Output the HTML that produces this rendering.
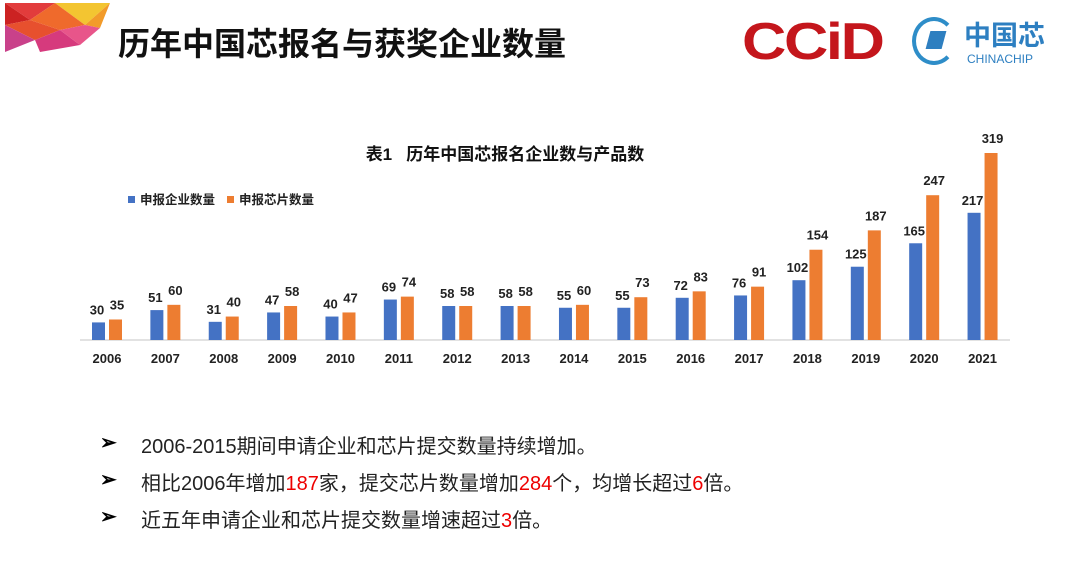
<!DOCTYPE html>
<html><head><meta charset="utf-8">
<style>
body{margin:0;width:1080px;height:573px;background:#fff;overflow:hidden;position:relative;font-family:"Liberation Sans","Noto Sans CJK SC",sans-serif;}
.title{position:absolute;left:118px;top:19px;font-size:32px;font-weight:bold;color:#111;letter-spacing:0px;white-space:nowrap;}
.bul{position:absolute;left:100px;font-size:20px;color:#222;}
.bul span.r{color:#e00;}
.bul .arr{position:absolute;left:0;font-weight:bold;color:#000;}
.bul .t{position:absolute;left:41px;white-space:nowrap;}
</style></head><body>
<svg width="115" height="55" style="position:absolute;left:0;top:0">
<polygon points="5,3 55,3 30,20" fill="#e23c3c"/>
<polygon points="55,3 110,3 85,25" fill="#f3c531"/>
<polygon points="5,3 30,20 5,25" fill="#c22"/>
<polygon points="30,20 55,3 85,25 60,30" fill="#ef6a2c"/>
<polygon points="5,25 30,20 60,30 35,40" fill="#e7502e"/>
<polygon points="85,25 110,3 100,28" fill="#f29b2a"/>
<polygon points="5,25 35,40 5,52" fill="#c9418a"/>
<polygon points="35,40 60,30 80,45 40,52" fill="#d63a7d"/>
<polygon points="60,30 85,25 100,28 80,45" fill="#e8558a"/>
</svg>
<div class="title">历年中国芯报名与获奖企业数量</div>
<div style="position:absolute;left:742px;top:12px;font:bold 52px 'Liberation Sans',sans-serif;color:#c4161c;letter-spacing:-2px;transform:scaleX(1.18);transform-origin:left;white-space:nowrap">CCiD</div>
<div style="position:absolute;left:912px;top:17px;width:60px;height:52px;">
<div style="position:absolute;left:0;top:0;width:44px;height:48px;border:4px solid #2e8dc8;border-radius:50%;border-right-color:transparent;box-sizing:border-box"></div>
<div style="position:absolute;left:16px;top:14px;width:16px;height:18px;background:#2e7fc0;transform:skewX(-15deg)"></div>
<div style="position:absolute;left:52px;top:2px;font:bold 27px 'Noto Sans CJK SC',sans-serif;color:#2d7fc1;white-space:nowrap;line-height:30px">中国芯</div>
<div style="position:absolute;left:55px;top:35px;font:12px 'Liberation Sans',sans-serif;color:#2d7fc1;white-space:nowrap">CHINACHIP</div>
</div>

<svg id="chart" width="1080" height="573" style="position:absolute;left:0;top:0">
<text x="505" y="160" font-size="17" font-weight="bold" text-anchor="middle" fill="#111" xml:space="preserve">表1   历年中国芯报名企业数与产品数</text>
<rect x="128" y="196" width="7" height="7" fill="#4472c4"/>
<text x="140" y="204" font-size="12.5" font-weight="bold" fill="#222">申报企业数量</text>
<rect x="227" y="196" width="7" height="7" fill="#ed7d31"/>
<text x="239" y="204" font-size="12.5" font-weight="bold" fill="#222">申报芯片数量</text>
<line x1="80" y1="340" x2="1010" y2="340" stroke="#d9d9d9" stroke-width="1.5"/>
<g id="bars"></g>
</svg>

<div class="bul" style="top:430px"><span class="arr">➢</span><span class="t">2006-2015期间申请企业和芯片提交数量持续增加。</span></div>
<div class="bul" style="top:467px"><span class="arr">➢</span><span class="t">相比2006年增加<span class="r">187</span>家，提交芯片数量增加<span class="r">284</span>个，均增长超过<span class="r">6</span>倍。</span></div>
<div class="bul" style="top:504px"><span class="arr">➢</span><span class="t">近五年申请企业和芯片提交数量增速超过<span class="r">3</span>倍。</span></div>

<script>
const years=["2006","2007","2008","2009","2010","2011","2012","2013","2014","2015","2016","2017","2018","2019","2020","2021"];
const companies=[30,51,31,47,40,69,58,58,55,55,72,76,102,125,165,217];
const chips=[35,60,40,58,47,74,58,58,60,73,83,91,154,187,247,319];
const NS="http://www.w3.org/2000/svg";
const g=document.getElementById('bars');
const x0=107,step=58.37,base=340,k=187/319;
function xc(i){return x0+i*step;}
function y(v){return base-v*k;}
function mk(t,a){const e=document.createElementNS(NS,t);for(const n in a)e.setAttribute(n,a[n]);g.appendChild(e);return e;}
years.forEach((yr,i)=>{
  const c=xc(i);
  const b1=mk('rect',{x:c-15,y:y(companies[i]),width:13,height:base-y(companies[i]),fill:'#4472c4'});
  
  
  const b2=mk('rect',{x:c+2,y:y(chips[i]),width:13,height:base-y(chips[i]),fill:'#ed7d31'});
  
  
  const l1=mk('text',{x:c-10,y:y(companies[i])-8,'font-size':13,'font-weight':'bold','text-anchor':'middle',fill:'#222'});
  l1.textContent=companies[i];
  
  
  const l2=mk('text',{x:c+10,y:y(chips[i])-10,'font-size':13,'font-weight':'bold','text-anchor':'middle',fill:'#222'});
  l2.textContent=chips[i];
  
  
  const xl=mk('text',{x:c,y:363,'font-size':13,'font-weight':'bold','text-anchor':'middle',fill:'#222'});
  xl.textContent=yr;
  
  
});
</script>
</body></html>
